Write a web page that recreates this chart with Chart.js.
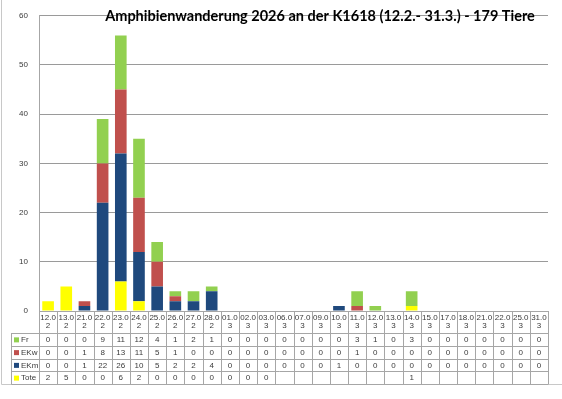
<!DOCTYPE html>
<html>
<head>
<meta charset="utf-8">
<title>Amphibienwanderung 2026</title>
<script src="https://cdn.jsdelivr.net/npm/chart.js@4"></script>
<style>
  html, body { margin: 0; padding: 0; background: #fff; }
</style>
</head>
<body>
<canvas id="chart" width="562" height="399"></canvas>
<script>
  // ---- data ----
  var categories = ["12.02", "13.02", "21.02", "22.02", "23.02", "24.02", "25.02", "26.02", "27.02", "28.02",
                    "01.03", "02.03", "03.03", "06.03", "07.03", "09.03", "10.03", "11.03", "12.03", "13.03",
                    "14.03", "15.03", "17.03", "18.03", "21.03", "22.03", "25.03", "31.03"];
  var fr   = [0, 0, 0, 9, 11, 12, 4, 1, 2, 1, 0, 0, 0, 0, 0, 0, 0, 3, 1, 0, 3, 0, 0, 0, 0, 0, 0, 0];
  var ekw  = [0, 0, 1, 8, 13, 11, 5, 1, 0, 0, 0, 0, 0, 0, 0, 0, 0, 1, 0, 0, 0, 0, 0, 0, 0, 0, 0, 0];
  var ekm  = [0, 0, 1, 22, 26, 10, 5, 2, 2, 4, 0, 0, 0, 0, 0, 0, 1, 0, 0, 0, 0, 0, 0, 0, 0, 0, 0, 0];
  var tote = [2, 5, 0, 0, 6, 2, 0, 0, 0, 0, 0, 0, 0, null, null, null, null, null, null, null,
              1, null, null, null, null, null, null, null];
  var yMax = 60;
  var yStep = 10;
  var titleText = "Amphibienwanderung 2026 an der K1618 (12.2.- 31.3.) - 179 Tiere";

  var colFr = "#92D050", colEkw = "#C0504D", colEkm = "#1F497D", colTote = "#FFFF00";
  var lineCol = "#a6a6a6";
  var textCol = "#3a3a3a";
  var font = "'Liberation Sans', Arial, sans-serif";

  // rows of the data table (top to bottom)
  var tableRows = [
    { name: "Fr",   color: colFr,   values: fr },
    { name: "EKw",  color: colEkw,  values: ekw },
    { name: "EKm",  color: colEkm,  values: ekm },
    { name: "Tote", color: colTote, values: tote }
  ];

  // frame + title + data table under the x axis
  var extrasPlugin = {
    id: "extras",
    beforeDraw: function (chart) {
      var ctx = chart.ctx;
      ctx.save();
      ctx.strokeStyle = "#c8c8c8";
      ctx.lineWidth = 1;
      ctx.beginPath();
      ctx.moveTo(1.5, 0);
      ctx.lineTo(1.5, 384.5);
      ctx.lineTo(562, 384.5);
      ctx.stroke();
      ctx.restore();
    },
    afterDraw: function (chart) {
      var ctx = chart.ctx;
      var area = chart.chartArea;
      var xs = chart.scales.x;
      var n = categories.length;
      var colW = (area.right - area.left) / n;
      var headerBottom = area.bottom + 22;
      var rowH = 12.75;
      var labelLeft = 11.5;

      ctx.save();
      // title
      ctx.fillStyle = "#000";
      ctx.font = "bold 14.5px Lato, sans-serif";
      ctx.textAlign = "center";
      ctx.textBaseline = "middle";
      ctx.fillText(titleText, 320, 16);

      // grid of the table
      ctx.strokeStyle = lineCol;
      ctx.lineWidth = 1;
      ctx.beginPath();
      for (var k = 0; k <= tableRows.length; k++) {
        var y = Math.round(headerBottom + k * rowH) + 0.5;
        ctx.moveTo(labelLeft, y);
        ctx.lineTo(area.right, y);
      }
      var bottom = Math.round(headerBottom + tableRows.length * rowH) + 0.5;
      for (var i = 0; i <= n; i++) {
        var x = Math.round(area.left + i * colW) + 0.5;
        ctx.moveTo(x, area.bottom);
        ctx.lineTo(x, bottom);
      }
      ctx.moveTo(labelLeft, headerBottom);
      ctx.lineTo(labelLeft, bottom);
      ctx.stroke();

      ctx.font = "8px " + font;
      ctx.textBaseline = "middle";
      ctx.fillStyle = textCol;
      ctx.textAlign = "center";
      // header: dates wrapped in two lines like the original table
      categories.forEach(function (lab, i) {
        var cx = xs.getPixelForTick(i);
        ctx.fillText(lab.slice(0, 4), cx, area.bottom + 7);
        ctx.fillText(lab.slice(4), cx, area.bottom + 15);
      });

      // row headers and values
      tableRows.forEach(function (row, r) {
        var cy = headerBottom + r * rowH + rowH / 2 + 0.5;
        ctx.fillStyle = row.color;
        ctx.fillRect(14, cy - 2.5, 5, 5);
        ctx.fillStyle = textCol;
        ctx.textAlign = "left";
        ctx.fillText(row.name, 21, cy);
        ctx.textAlign = "center";
        row.values.forEach(function (v, i) {
          if (v === null) return;
          ctx.fillText(String(v), xs.getPixelForTick(i), cy);
        });
      });
      ctx.restore();
    }
  };

  var ctx = document.getElementById("chart");
  new Chart(ctx, {
    type: "bar",
    data: {
      labels: categories,
      datasets: [
        { label: "Tote", data: tote, backgroundColor: colTote },
        { label: "EKm",  data: ekm,  backgroundColor: colEkm },
        { label: "EKw",  data: ekw,  backgroundColor: colEkw },
        { label: "Fr",   data: fr,   backgroundColor: colFr }
      ]
    },
    options: {
      responsive: false,
      animation: false,
      layout: { padding: { top: 5, right: 14, bottom: 0, left: 0 } },
      datasets: { bar: { barPercentage: 0.64, categoryPercentage: 1, borderWidth: 0 } },
      plugins: {
        legend: { display: false },
        tooltip: { enabled: false },
        title: { display: false }
      },
      scales: {
        x: {
          stacked: true,
          offset: true,
          grid: { display: false },
          border: { display: true, color: lineCol },
          afterFit: function (scale) { scale.height = 88; },
          ticks: { display: false }
        },
        y: {
          stacked: true,
          min: 0,
          max: yMax,
          grid: { color: "#9a9a9a", lineWidth: 1, drawTicks: false },
          border: { display: true, color: lineCol },
          afterFit: function (scale) { scale.width = 39; },
          ticks: {
            stepSize: yStep,
            padding: 11,
            color: textCol,
            font: { family: font, size: 8 }
          }
        }
      }
    },
    plugins: [extrasPlugin]
  });
</script>
</body>
</html>
